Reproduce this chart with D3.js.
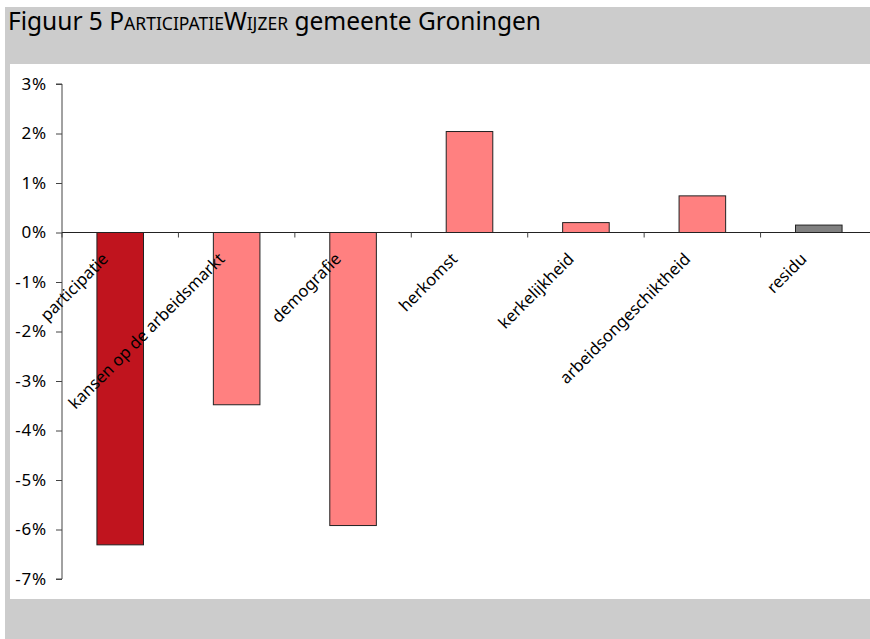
<!DOCTYPE html>
<html>
<head>
<meta charset="utf-8">
<script src="https://cdn.jsdelivr.net/npm/d3@7"></script>
<style>
  body { margin: 0; background: #fff; }
  svg { display: block; font-family: "Noto Sans", "Open Sans", sans-serif; }
</style>
</head>
<body>
<div id="chart"></div>
<script>
// categories and values (share, in %)
var categories = ["participatie", "kansen op de arbeidsmarkt", "demografie", "herkomst",
                  "kerkelijkheid", "arbeidsongeschiktheid", "residu"];
var values = [-6.31, -3.48, -5.92, 2.04, 0.20, 0.74, 0.15];
var barColors = ["#c0141e", "#ff8080", "#ff8080", "#ff8080", "#ff8080", "#ff8080", "#808080"];
var yTicks = [3, 2, 1, 0, -1, -2, -3, -4, -5, -6, -7];

var width = 870, height = 639;

var svg = d3.select("#chart")
            .append("svg")
            .attr("width", width)
            .attr("height", height);

// grey frame + white plot panel
svg.append("rect")
   .attr("x", 5).attr("y", 7)
   .attr("width", width - 5).attr("height", height - 7)
   .style("fill", "#cccccc");

svg.append("rect")
   .attr("x", 10).attr("y", 64)
   .attr("width", 860).attr("height", 535)
   .style("fill", "#ffffff");

// title with small caps done by hand
var title = svg.append("text")
   .attr("x", 8)
   .attr("y", 30)
   .attr("font-size", "24.5px")
   .style("fill", "#000");
title.append("tspan").text("Figuur 5 P");
title.append("tspan").attr("font-size", "17.5px").text("ARTICIPATIE");
title.append("tspan").text("W");
title.append("tspan").attr("font-size", "17.5px").text("IJZER");
title.append("tspan").text(" gemeente Groningen");

var y = d3.scaleLinear()
          .domain([-7, 3])
          .range([579, 84]);

var x = d3.scaleBand()
          .domain(categories)
          .range([62, 877])
          .paddingInner(0)
          .paddingOuter(0);

var plot = svg.append("g");

// bars
plot.selectAll("rect.bar")
  .data(values)
  .enter()
  .append("rect")
  .attr("class", "bar")
  .attr("x", function(d, i){
    return x(categories[i]) + x.bandwidth() * 0.3;
  })
  .attr("width", x.bandwidth() * 0.4)
  .attr("y", function(d){
    return y(Math.max(0, d));
  })
  .attr("height", function(d){
    return Math.abs(y(d) - y(0));
  })
  .style("fill", function(d, i){
    return barColors[i];
  })
  .style("stroke", "#222")
  .style("stroke-width", 1);

// y axis
var yAxis = svg.append("g")
  .attr("transform", "translate(62,0)")
  .call(d3.axisLeft(y)
          .tickValues(yTicks)
          .tickSize(6)
          .tickPadding(9)
          .tickFormat(function(d){ return d + "%"; }));

yAxis.selectAll("text")
  .attr("font-size", "17px")
  .attr("letter-spacing", "0.8px")
  .style("fill", "#000")
  .style("font-family", "\"Noto Sans\", sans-serif");
yAxis.selectAll("line, path").style("stroke", "#444");
yAxis.select("path").attr("d", "M-6," + y(-7) + "H0V" + y(3) + "H-6");

// x axis along zero line, ticks between categories
var tickPos = categories.map(function(c){ return x(c); });

svg.append("line")
  .attr("x1", 62).attr("x2", 870)
  .attr("y1", y(0)).attr("y2", y(0))
  .style("stroke", "#222");

svg.selectAll("line.xtick")
  .data(tickPos)
  .enter()
  .append("line")
  .attr("class", "xtick")
  .attr("x1", function(d){ return d; })
  .attr("x2", function(d){ return d; })
  .attr("y1", y(0))
  .attr("y2", y(0) + 5)
  .style("stroke", "#444");

// rotated category labels
svg.selectAll("text.cat")
  .data(categories)
  .enter()
  .append("text")
  .attr("class", "cat")
  .attr("font-size", "16.5px")
  .attr("text-anchor", "end")
  .attr("transform", function(d){
    var cx = x(d) + x.bandwidth() / 2 - 11;
    return "translate(" + cx + ",260) rotate(-45)";
  })
  .text(function(d){ return d; })
  .style("fill", "#000");
</script>
</body>
</html>
